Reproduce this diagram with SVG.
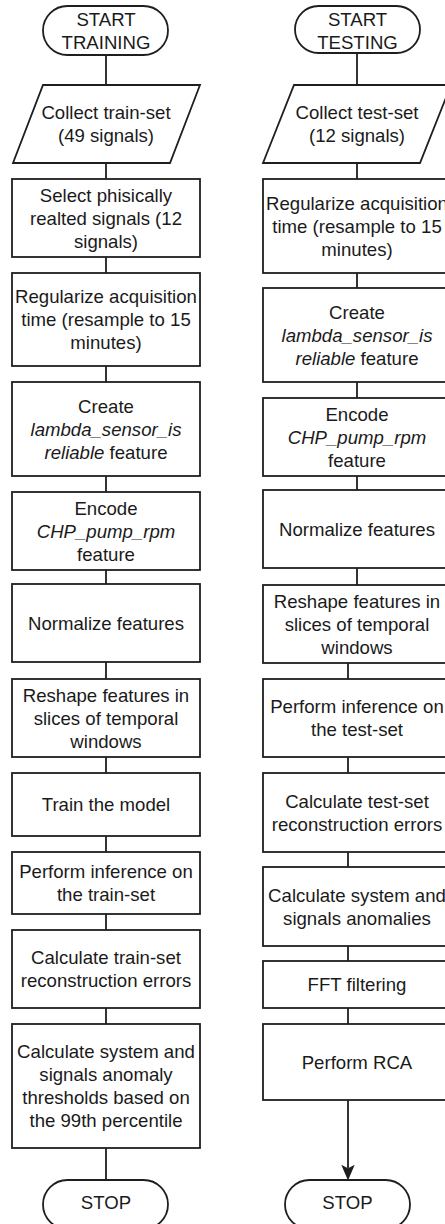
<svg xmlns="http://www.w3.org/2000/svg" width="445" height="1224" viewBox="0 0 445 1224">
<style>
.s{fill:#ffffff;stroke:#1e1e1e;stroke-width:1.8}
.c{fill:none;stroke:#1e1e1e;stroke-width:1.8}
text{font-family:"Liberation Sans",Arial,sans-serif;font-size:18.6px;fill:#1a1a1a;text-anchor:middle}
.i{font-style:italic}
</style>
<rect width="445" height="1224" fill="#ffffff"/>
<g id="connectors">
<path class="c" d="M106,55V85M106,163V179M106,257V273M106,366V382M106,476V492M106,570V584M106,662V679M106,757V773M106,836V852M106,914V930M106,1008V1024M106,1148V1180"/>
<path class="c" d="M357,53V85M357,163V179M357,273V288M357,382V398M357,476V490M357,568V585M348,663V679M348,757V773M348,852V867M348,946V961M348,1008V1024M348,1100V1168"/>
<path d="M348,1179L342.5,1166L348,1169L353.5,1166Z" fill="#1e1e1e" stroke="#1e1e1e" stroke-width="1.2"/>
</g>
<g id="start-training"><rect class="s" x="43" y="6" width="125" height="49" rx="24.5"/><text><tspan x="106" y="25.5">START</tspan><tspan x="106" y="48.5">TRAINING</tspan></text></g>
<g id="collect-train"><polygon class="s" points="43,85 200,85 170,163 13,163"/><text><tspan x="106" y="119">Collect train-set</tspan><tspan x="106" y="142">(49 signals)</tspan></text></g>
<g id="select"><rect class="s" x="12" y="179" width="188" height="78"/><text><tspan x="106" y="201.5">Select phisically</tspan><tspan x="106" y="224.5">realted signals (12</tspan><tspan x="106" y="247.5">signals)</tspan></text></g>
<g id="regularize-train"><rect class="s" x="12" y="273" width="188" height="93"/><text><tspan x="106" y="303">Regularize acquisition</tspan><tspan x="106" y="326">time (resample to 15</tspan><tspan x="106" y="349">minutes)</tspan></text></g>
<g id="create-train"><rect class="s" x="12" y="382" width="188" height="94"/><text><tspan x="106" y="412.5">Create</tspan><tspan x="106" y="435.5" class="i">lambda_sensor_is</tspan><tspan x="106" y="458.5"><tspan class="i">reliable</tspan> feature</tspan></text></g>
<g id="encode-train"><rect class="s" x="12" y="492" width="188" height="78"/><text><tspan x="106" y="514.5">Encode</tspan><tspan x="106" y="537.5" class="i">CHP_pump_rpm</tspan><tspan x="106" y="560.5">feature</tspan></text></g>
<g id="normalize-train"><rect class="s" x="12" y="584" width="188" height="78"/><text x="106" y="629.5">Normalize features</text></g>
<g id="reshape-train"><rect class="s" x="12" y="679" width="188" height="78"/><text><tspan x="106" y="701.5">Reshape features in</tspan><tspan x="106" y="724.5">slices of temporal</tspan><tspan x="106" y="747.5">windows</tspan></text></g>
<g id="train"><rect class="s" x="12" y="773" width="188" height="63"/><text x="106" y="811">Train the model</text></g>
<g id="inference-train"><rect class="s" x="12" y="852" width="188" height="62"/><text><tspan x="106" y="878">Perform inference on</tspan><tspan x="106" y="901">the train-set</tspan></text></g>
<g id="errors-train"><rect class="s" x="12" y="930" width="188" height="78"/><text><tspan x="106" y="964">Calculate train-set</tspan><tspan x="106" y="987">reconstruction errors</tspan></text></g>
<g id="thresholds"><rect class="s" x="12" y="1024" width="188" height="124"/><text><tspan x="106" y="1058">Calculate system and</tspan><tspan x="106" y="1081">signals anomaly</tspan><tspan x="106" y="1104">thresholds based on</tspan><tspan x="106" y="1127">the 99th percentile</tspan></text></g>
<g id="stop-train"><rect class="s" x="43" y="1180" width="125" height="49" rx="24.5"/><text x="106" y="1209">STOP</text></g>
<g id="start-testing"><rect class="s" x="295" y="6" width="125" height="47" rx="23.5"/><text><tspan x="357.5" y="25.5">START</tspan><tspan x="357.5" y="48.5">TESTING</tspan></text></g>
<g id="collect-test"><polygon class="s" points="294,85 451,85 420,163 263,163"/><text><tspan x="357" y="119">Collect test-set</tspan><tspan x="357" y="142">(12 signals)</tspan></text></g>
<g id="regularize-test"><rect class="s" x="263" y="179" width="188" height="94"/><text><tspan x="357" y="209.5">Regularize acquisition</tspan><tspan x="357" y="232.5">time (resample to 15</tspan><tspan x="357" y="255.5">minutes)</tspan></text></g>
<g id="create-test"><rect class="s" x="263" y="288" width="188" height="94"/><text><tspan x="357" y="318.5">Create</tspan><tspan x="357" y="341.5" class="i">lambda_sensor_is</tspan><tspan x="357" y="364.5"><tspan class="i">reliable</tspan> feature</tspan></text></g>
<g id="encode-test"><rect class="s" x="263" y="398" width="188" height="78"/><text><tspan x="357" y="420.5">Encode</tspan><tspan x="357" y="443.5" class="i">CHP_pump_rpm</tspan><tspan x="357" y="466.5">feature</tspan></text></g>
<g id="normalize-test"><rect class="s" x="263" y="490" width="188" height="78"/><text x="357" y="535.5">Normalize features</text></g>
<g id="reshape-test"><rect class="s" x="263" y="585" width="188" height="78"/><text><tspan x="357" y="607.5">Reshape features in</tspan><tspan x="357" y="630.5">slices of temporal</tspan><tspan x="357" y="653.5">windows</tspan></text></g>
<g id="inference-test"><rect class="s" x="263" y="679" width="188" height="78"/><text><tspan x="357" y="713">Perform inference on</tspan><tspan x="357" y="736">the test-set</tspan></text></g>
<g id="errors-test"><rect class="s" x="263" y="773" width="188" height="79"/><text><tspan x="357" y="807.5">Calculate test-set</tspan><tspan x="357" y="830.5">reconstruction errors</tspan></text></g>
<g id="anomalies"><rect class="s" x="263" y="867" width="188" height="79"/><text><tspan x="357" y="901.5">Calculate system and</tspan><tspan x="357" y="924.5">signals anomalies</tspan></text></g>
<g id="fft"><rect class="s" x="263" y="961" width="188" height="47"/><text x="357" y="991">FFT filtering</text></g>
<g id="rca"><rect class="s" x="263" y="1024" width="188" height="76"/><text x="357" y="1068.5">Perform RCA</text></g>
<g id="stop-test"><rect class="s" x="285" y="1180" width="125" height="49" rx="24.5"/><text x="347.5" y="1209">STOP</text></g>
</svg>
